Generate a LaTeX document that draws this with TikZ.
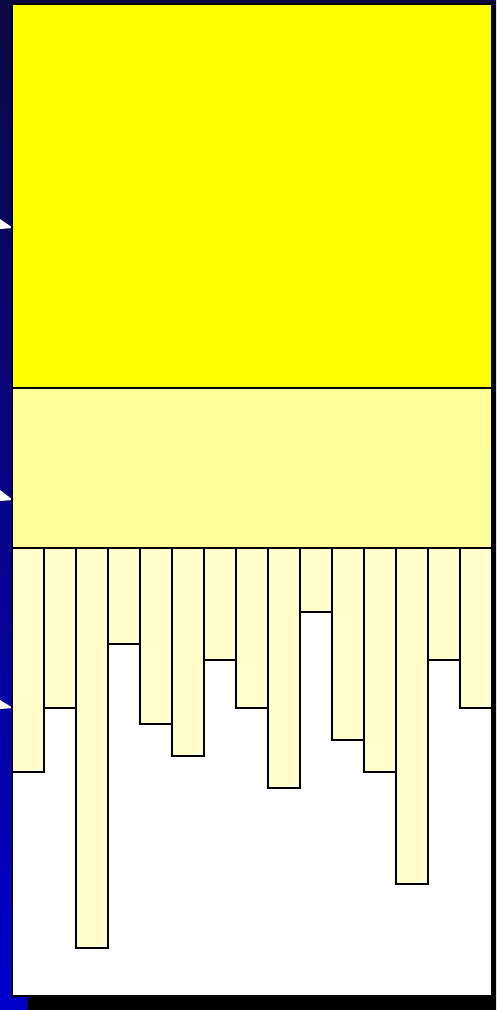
\documentclass[tikz,border=0pt]{standalone}
\definecolor{navytop}{RGB}{12,8,66}
\definecolor{bluebot}{RGB}{0,0,205}
\definecolor{yellowA}{RGB}{255,255,0}
\definecolor{yellowB}{RGB}{255,255,153}
\definecolor{barfill}{RGB}{255,255,204}
\begin{document}
\begin{tikzpicture}[x=1pt,y=-1pt,
  bar/.style={fill=barfill,draw=black,line width=2.6pt},
  bandline/.style={draw=black,line width=2.6pt},
  bullet/.style={fill=white}]
\useasboundingbox (0,0) rectangle (496,1010);
\shade[top color=navytop,bottom color=bluebot] (0,0) rectangle (496,1010);
\fill[black] (27,6) rectangle (496,1010);
\fill[bullet] (0,219) -- (13,228) -- (0,229) -- cycle;
\fill[bullet] (0,490) -- (13,500) -- (0,501) -- cycle;
\fill[bullet] (0,700) -- (13,708) -- (0,709) -- cycle;
\fill[white] (12,4) rectangle (492,996);
\fill[yellowA] (12,4) rectangle (492,388);
\fill[yellowB] (12,388) rectangle (492,548);
\foreach \i/\b in {0/772,1/708,2/948,3/644,4/724,5/756,6/660,7/708,8/788,9/612,10/740,11/772,12/884,13/660,14/708}
  \draw[bar] ({12+32*\i},548) rectangle ({44+32*\i},\b);
\draw[bandline] (12,388) -- (492,388);
\draw[bandline] (12,548) -- (492,548);
\draw[bandline] (12,4) rectangle (492,996);
\end{tikzpicture}
\end{document}
